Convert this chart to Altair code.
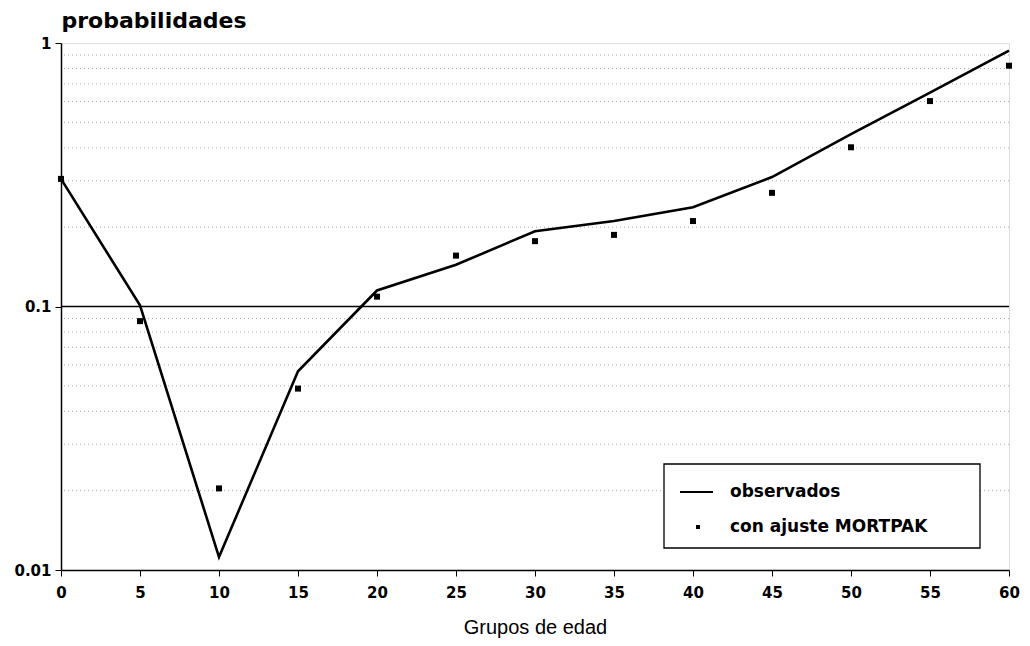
import altair as alt
import pandas as pd

edades = [0, 5, 10, 15, 20, 25, 30, 35, 40, 45, 50, 55, 60]
observados = [0.305, 0.101, 0.0112, 0.0568, 0.115, 0.144, 0.193, 0.211, 0.238, 0.31, 0.451, 0.648, 0.936]
mortpak = [0.305, 0.088, 0.0204, 0.0488, 0.109, 0.156, 0.177, 0.187, 0.211, 0.270, 0.402, 0.602, 0.82]
grid_menor = [0.02, 0.03, 0.04, 0.05, 0.06, 0.07, 0.08, 0.09,
              0.2, 0.3, 0.4, 0.5, 0.6, 0.7, 0.8, 0.9]
grid_mayor = [0.1]
y_ticks = [0.01, 0.1, 1]
x_ticks = list(range(0, 61, 5))

BOLD = "DejaVu Sans"
FONT = "Liberation Sans"

df = pd.DataFrame({"edad": edades, "obs": observados, "mp": mortpak})
df_minor = pd.DataFrame({"v": grid_menor})
df_major = pd.DataFrame({"v": grid_mayor})
one = pd.DataFrame({"a": [0]})

yscale = alt.Scale(type="log", domain=[0.01, 1], nice=False)
xscale = alt.Scale(domain=[0, 60], nice=False, zero=False)

yaxis = alt.Axis(
    values=y_ticks, format="~g", title="probabilidades", titleAngle=0,
    titleAlign="left", titleBaseline="alphabetic", titleX=0, titleY=-16,
    titleFont=BOLD, titleFontWeight="bold", titleFontSize=22, titleColor="black",
    labelFont=BOLD, labelFontWeight="bold", labelFontSize=15, labelColor="black",
    labelPadding=4, tickSize=6, tickColor="black", domainColor="black",
    domainWidth=1.5, grid=False,
)
xaxis = alt.Axis(
    values=x_ticks, title="Grupos de edad", titleFont=FONT, titleFontWeight="normal",
    titleFontSize=20, titleColor="black", titlePadding=17,
    labelFont=BOLD, labelFontWeight="bold", labelFontSize=15, labelColor="black",
    labelPadding=9, tickSize=6, tickColor="black", domainColor="black",
    domainWidth=1.5, grid=False, labelFlush=False,
)

Y = lambda f: alt.Y(f, type="quantitative", scale=yscale, axis=yaxis, title="probabilidades")
X = lambda f: alt.X(f, type="quantitative", scale=xscale, axis=xaxis, title="Grupos de edad")

minor = alt.Chart(df_minor).mark_rule(
    color="#ababab", strokeDash=[1, 3], strokeWidth=1
).encode(y=Y("v"))

major = alt.Chart(df_major).mark_rule(color="black", strokeWidth=1.3).encode(y=Y("v"))

line = alt.Chart(df).mark_line(color="black", strokeWidth=2.6).encode(
    x=X("edad"), y=Y("obs")
)
pts = alt.Chart(df).mark_square(color="black", size=36, opacity=1).encode(
    x=X("edad"), y=Y("mp")
)

# legend (pixel positions inside the plot area)
box = alt.Chart(one).mark_rect(fill="white", stroke="black", strokeWidth=1.3).encode(
    x=alt.value(603), x2=alt.value(919), y=alt.value(421), y2=alt.value(505)
)
leg_line = alt.Chart(one).mark_rule(color="black", strokeWidth=2).encode(
    x=alt.value(619), x2=alt.value(652), y=alt.value(449)
)
leg_pt = alt.Chart(one).mark_square(color="black", size=16, opacity=1).encode(
    x=alt.value(637), y=alt.value(484)
)
leg_t1 = alt.Chart(one).mark_text(
    align="left", baseline="middle", font=BOLD, fontWeight="bold", fontSize=17, color="black"
).encode(x=alt.value(669), y=alt.value(449), text=alt.value("observados"))
leg_t2 = alt.Chart(one).mark_text(
    align="left", baseline="middle", font=BOLD, fontWeight="bold", fontSize=17, color="black"
).encode(x=alt.value(669), y=alt.value(484), text=alt.value("con ajuste MORTPAK"))

chart = alt.layer(
    minor, major, line, pts, box, leg_line, leg_pt, leg_t1, leg_t2
).properties(
    width=948, height=527,
    autosize=alt.AutoSizeParams(type="none"),
    padding={"left": 53, "top": 35, "right": 13, "bottom": 68},
).configure_view(stroke="black", strokeWidth=1.5).configure(background="white")

chart.save("out.html", embed_options={"renderer": "svg", "actions": False})
